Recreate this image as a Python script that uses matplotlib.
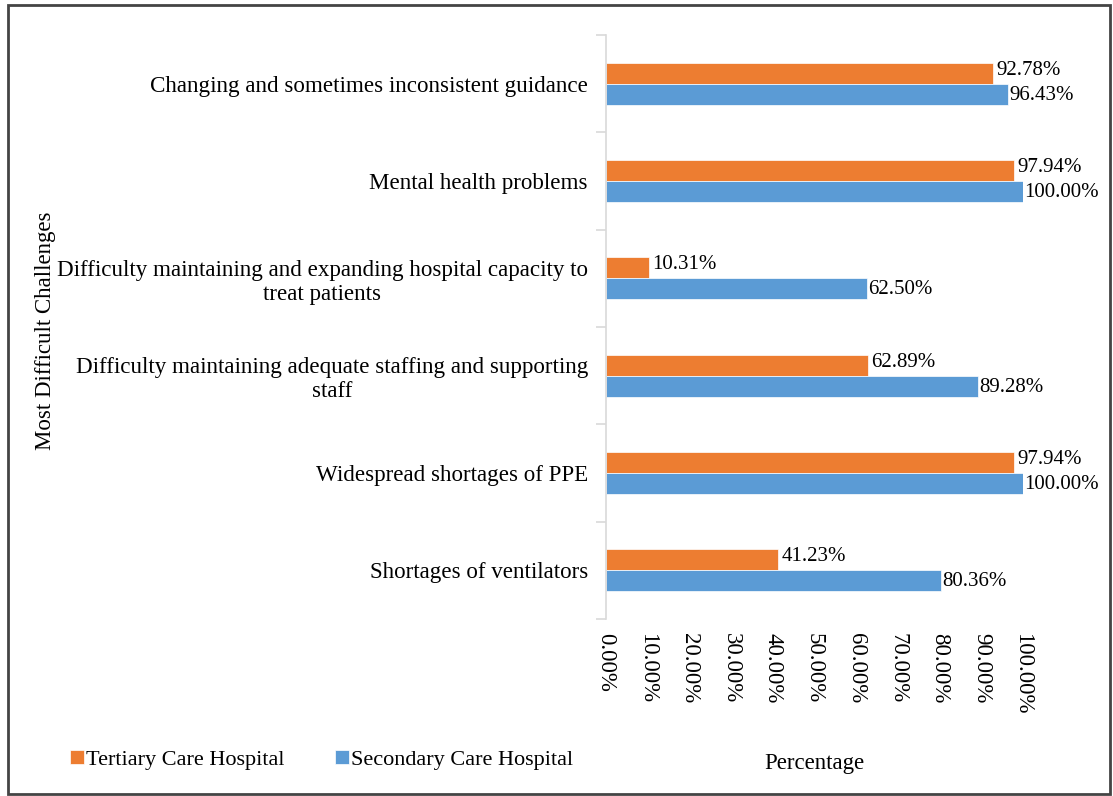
import numpy as np
import matplotlib.pyplot as plt
from matplotlib.patches import Rectangle

# Data (top to bottom as in the chart)
categories = [
    'Changing and sometimes inconsistent guidance',
    'Mental health problems',
    'Difficulty maintaining and expanding hospital capacity to\ntreat patients',
    'Difficulty maintaining adequate staffing and supporting\nstaff',
    'Widespread shortages of PPE',
    'Shortages of ventilators',
]
tertiary = [92.78, 97.94, 10.31, 62.89, 97.94, 41.23]
secondary = [96.43, 100.00, 62.50, 89.28, 100.00, 80.36]
xticks = [0, 10, 20, 30, 40, 50, 60, 70, 80, 90, 100]

plt.rcParams['font.family'] = ['Liberation Serif', 'DejaVu Serif']

orange = '#ED7D31'
blue = '#5B9BD5'

fig = plt.figure(figsize=(11.13, 7.96), dpi=100)
ax = fig.add_axes([0.5445, 0.2224, 0.9191 - 0.5445, 0.956 - 0.2224])

y = np.arange(len(categories))
h = 0.215
ax.barh(y - h / 2, tertiary, height=h, color=orange, edgecolor='white', linewidth=0.5,
        label='Tertiary Care Hospital')
ax.barh(y + h / 2, secondary, height=h, color=blue, edgecolor='white', linewidth=0.5,
        label='Secondary Care Hospital')

for i in range(len(categories)):
    ax.text(tertiary[i] + 0.8, y[i] - h / 2 - 0.03, f'{tertiary[i]:.2f}%', va='center', ha='left',
            fontsize=15)
    ax.text(secondary[i] + 0.3, y[i] + h / 2 + 0.01, f'{secondary[i]:.2f}%', va='center', ha='left',
            fontsize=15)

ax.set_xlim(0, 100)
ax.set_ylim(len(categories) - 0.5, -0.5)

ax.set_yticks(y)
ax.set_yticklabels(categories, fontsize=16.6)
for lbl in ax.get_yticklabels():
    lbl.set_multialignment('center')
ax.set_yticks(np.arange(len(categories) + 1) - 0.5, minor=True)
ax.tick_params(axis='y', which='major', length=0, pad=13)
ax.tick_params(axis='y', which='minor', length=7, color='#d9d9d9', width=1.2)

ax.set_xticks(xticks)
ax.set_xticklabels([f'{v:.2f}%' for v in xticks], rotation=270, fontsize=16.5)
ax.tick_params(axis='x', length=0, pad=10)

for s in ['top', 'right', 'bottom']:
    ax.spines[s].set_visible(False)
ax.spines['left'].set_color('#d9d9d9')
ax.spines['left'].set_linewidth(1.2)

ax.set_xlabel('Percentage', fontsize=16.5, labelpad=28)
fig.text(0.041, 0.585, 'Most Difficult Challenges', rotation=90, fontsize=16.5,
         ha='center', va='center')

fig.legend(loc='center', bbox_to_anchor=(0.289, 0.045), ncol=2, frameon=False,
           fontsize=16, handlelength=0.6, handleheight=0.6, handletextpad=0.1,
           columnspacing=2.3)

# outer frame
fig.add_artist(Rectangle((0.007, 0.003), 0.99, 0.991, transform=fig.transFigure,
                         fill=False, edgecolor='#444444', linewidth=2))

fig.savefig('out.png', dpi=100)
